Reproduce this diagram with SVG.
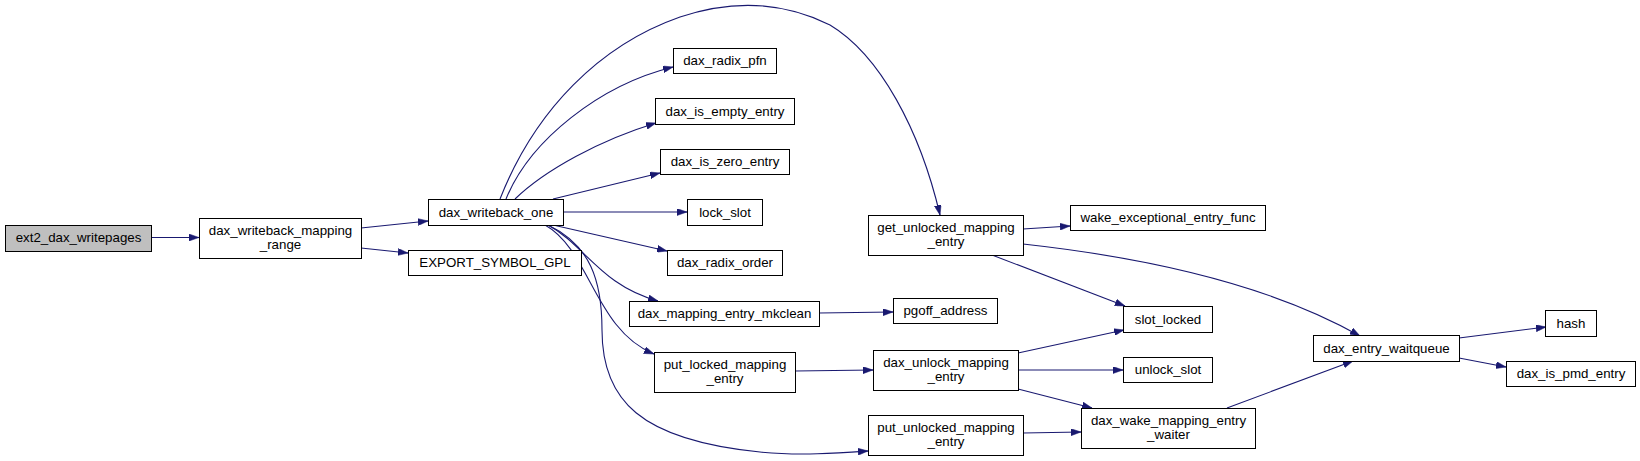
<svg xmlns="http://www.w3.org/2000/svg" width="1640" height="461" viewBox="0 0 1640 461">
<style>
.n rect{fill:#ffffff;stroke:#000000;stroke-width:1}
.n.root rect{fill:#bfbfbf}
.n text{font-family:"Liberation Sans",Arial,sans-serif;font-size:13.3px;fill:#000000;text-anchor:middle}
.e path{fill:none;stroke:#191970;stroke-width:1.1;marker-end:url(#ah)}
</style>
<defs>
<marker id="ah" viewBox="0 0 10 7" refX="10" refY="3.5" markerWidth="10" markerHeight="7" markerUnits="userSpaceOnUse" orient="auto">
<path d="M0,0 L10,3.5 L0,7 z" fill="#191970" stroke="#191970" stroke-width="0.5"/>
</marker>
</defs>
<rect width="1640" height="461" fill="#ffffff"/>
<g id="connectors" class="e">
<path d="M151,237.5 L199,237.5"/>
<path d="M361,228 L428,221"/>
<path d="M361,248 L408,253"/>
<path d="M500,199 C535,110 600,45 680,17 C740,-3 790,5 830,25 C880,55 920,130 940,215"/>
<path d="M506,199 C530,140 600,85 673,67"/>
<path d="M515,199 C545,170 600,140 656,123"/>
<path d="M553,199 L660,173"/>
<path d="M563,212 L687,212"/>
<path d="M553,225 L667,251"/>
<path d="M548,225 C585,245 600,285 658,301"/>
<path d="M545,225 C590,250 595,330 654,354"/>
<path d="M548,225 C590,245 602,280 602,330 C602,400 640,440 760,452 C800,456 840,453 868,451"/>
<path d="M819,313 L893,312"/>
<path d="M795,371 L873,370"/>
<path d="M1023,229 L1070,226"/>
<path d="M992,255 L1125,306"/>
<path d="M1023,244 C1150,258 1270,285 1360,336"/>
<path d="M1018,353 L1124,330"/>
<path d="M1018,370 L1123,370"/>
<path d="M1018,389 L1092,408"/>
<path d="M1023,433 L1081,432"/>
<path d="M1227,408 L1353,361"/>
<path d="M1459,338 L1546,327"/>
<path d="M1459,358 L1506,367"/>
</g>
<g id="ext2_dax_writepages" class="n root"><rect x="5.5" y="225.5" width="146" height="26"/><text x="78.5" y="242">ext2_dax_writepages</text></g>
<g id="dax_writeback_mapping_range" class="n"><rect x="199.5" y="218.5" width="162" height="40"/><text x="280.5" y="234.5">dax_writeback_mapping</text><text x="280.5" y="248.5">_range</text></g>
<g id="dax_writeback_one" class="n"><rect x="428.5" y="199.5" width="135" height="26"/><text x="496" y="216.5">dax_writeback_one</text></g>
<g id="EXPORT_SYMBOL_GPL" class="n"><rect x="408.5" y="250.5" width="173" height="25"/><text x="495" y="267">EXPORT_SYMBOL_GPL</text></g>
<g id="dax_radix_pfn" class="n"><rect x="673.5" y="48.5" width="103" height="25"/><text x="725" y="65">dax_radix_pfn</text></g>
<g id="dax_is_empty_entry" class="n"><rect x="655.5" y="98.5" width="139" height="26"/><text x="725" y="115.5">dax_is_empty_entry</text></g>
<g id="dax_is_zero_entry" class="n"><rect x="660.5" y="149.5" width="129" height="25"/><text x="725" y="166">dax_is_zero_entry</text></g>
<g id="lock_slot" class="n"><rect x="687.5" y="199.5" width="75" height="26"/><text x="725" y="216.5">lock_slot</text></g>
<g id="dax_radix_order" class="n"><rect x="667.5" y="250.5" width="115" height="25"/><text x="725" y="267">dax_radix_order</text></g>
<g id="dax_mapping_entry_mkclean" class="n"><rect x="629.5" y="301.5" width="190" height="25"/><text x="724.5" y="318">dax_mapping_entry_mkclean</text></g>
<g id="put_locked_mapping_entry" class="n"><rect x="654.5" y="352.5" width="141" height="40"/><text x="725" y="368.5">put_locked_mapping</text><text x="725" y="382.5">_entry</text></g>
<g id="get_unlocked_mapping_entry" class="n"><rect x="868.5" y="215.5" width="155" height="40"/><text x="946" y="231.5">get_unlocked_mapping</text><text x="946" y="245.5">_entry</text></g>
<g id="put_unlocked_mapping_entry" class="n"><rect x="868.5" y="415.5" width="155" height="40"/><text x="946" y="431.5">put_unlocked_mapping</text><text x="946" y="445.5">_entry</text></g>
<g id="pgoff_address" class="n"><rect x="893.5" y="298.5" width="104" height="25"/><text x="945.5" y="315">pgoff_address</text></g>
<g id="dax_unlock_mapping_entry" class="n"><rect x="873.5" y="350.5" width="145" height="40"/><text x="946" y="366.5">dax_unlock_mapping</text><text x="946" y="380.5">_entry</text></g>
<g id="wake_exceptional_entry_func" class="n"><rect x="1070.5" y="205.5" width="195" height="25"/><text x="1168" y="222">wake_exceptional_entry_func</text></g>
<g id="slot_locked" class="n"><rect x="1123.5" y="306.5" width="89" height="26"/><text x="1168" y="323.5">slot_locked</text></g>
<g id="unlock_slot" class="n"><rect x="1123.5" y="357.5" width="89" height="25"/><text x="1168" y="374">unlock_slot</text></g>
<g id="dax_wake_mapping_entry_waiter" class="n"><rect x="1081.5" y="408.5" width="174" height="40"/><text x="1168.5" y="424.5">dax_wake_mapping_entry</text><text x="1168.5" y="438.5">_waiter</text></g>
<g id="dax_entry_waitqueue" class="n"><rect x="1313.5" y="335.5" width="146" height="26"/><text x="1386.5" y="352.5">dax_entry_waitqueue</text></g>
<g id="hash" class="n"><rect x="1545.5" y="310.5" width="51" height="26"/><text x="1571" y="327.5">hash</text></g>
<g id="dax_is_pmd_entry" class="n"><rect x="1506.5" y="361.5" width="129" height="25"/><text x="1571" y="378">dax_is_pmd_entry</text></g>
</svg>
